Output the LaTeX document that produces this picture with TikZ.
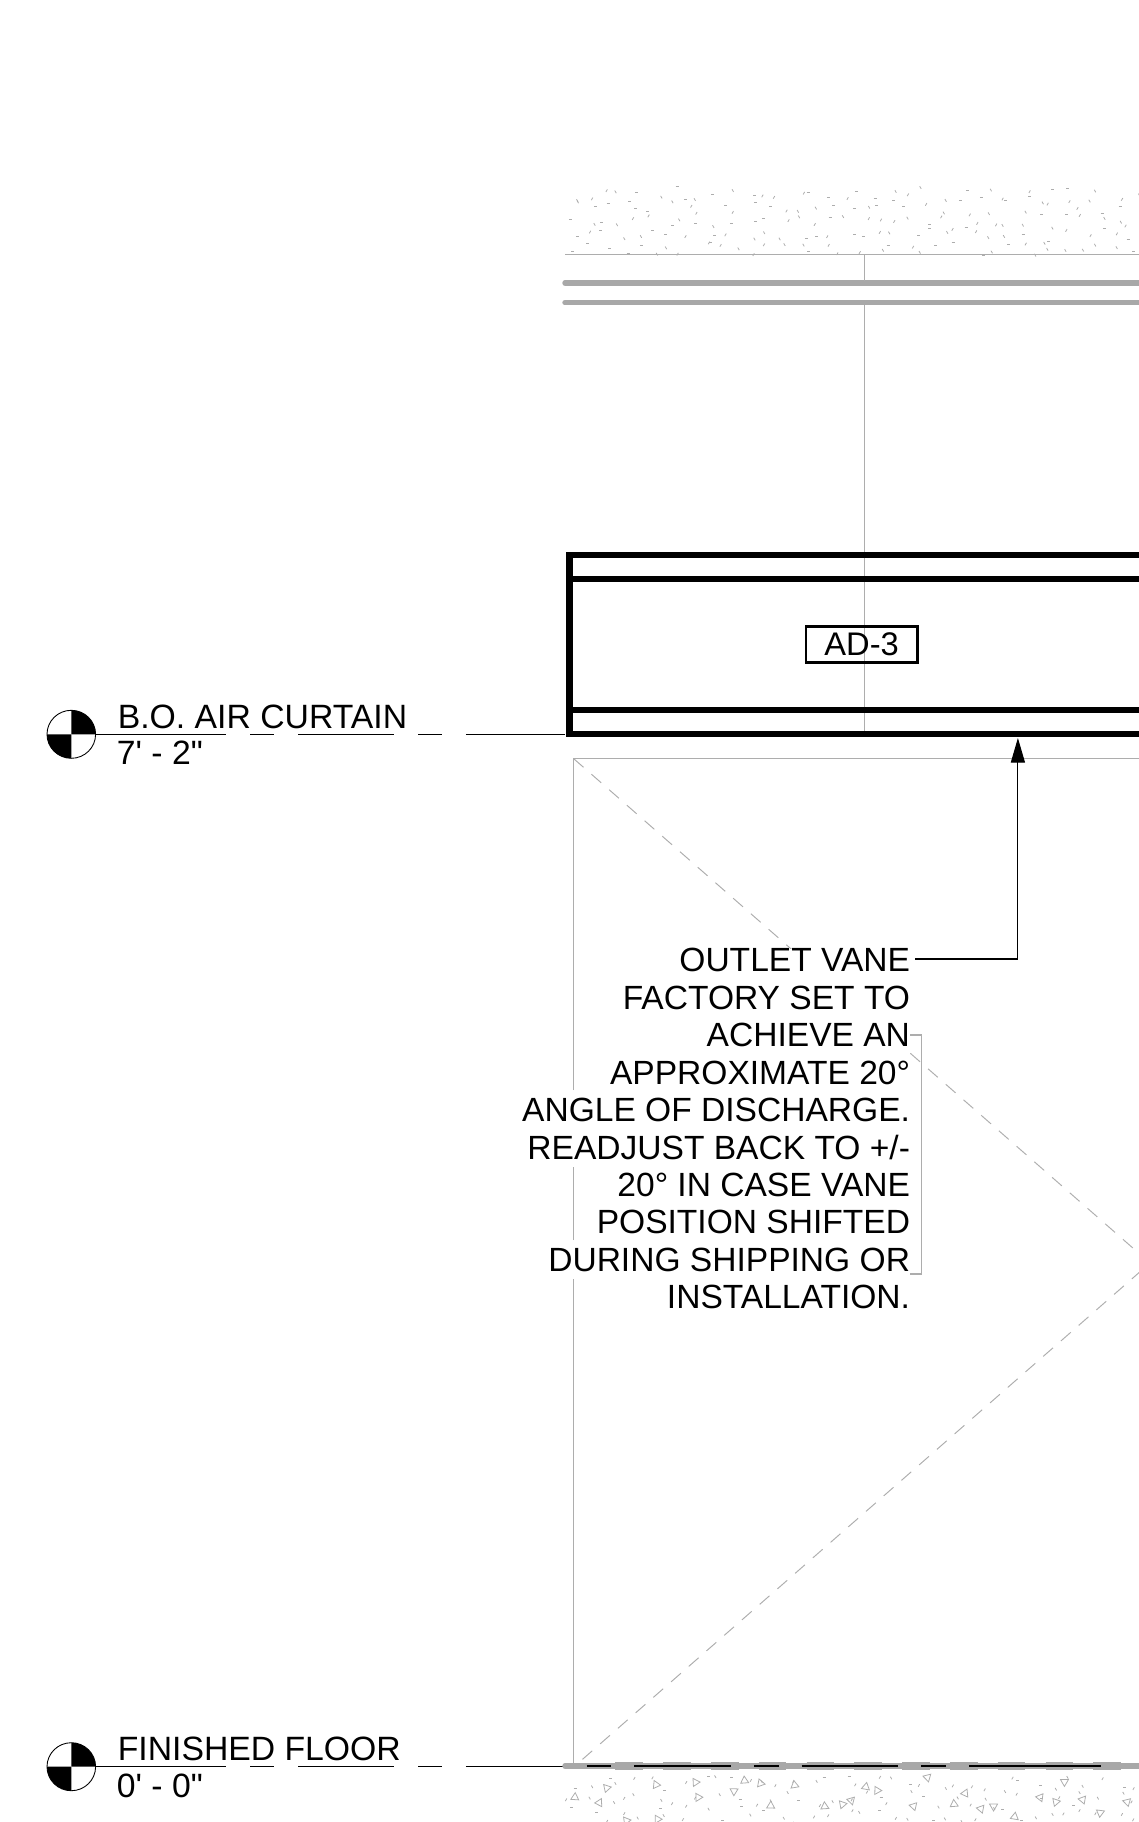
\documentclass[tikz,border=0pt]{standalone}
\usepackage{fontspec}
\newfontfamily\cadfont{Liberation Sans}
\usetikzlibrary{arrows.meta}
\tikzset{
    thinline/.style={draw=black!32, line width=0.6pt},
    hiddenline/.style={draw=black!32, line width=0.55pt, dash pattern=on 7.4pt off 6pt},
    heavyline/.style={line width=3.2pt},
    slabline/.style={draw=black!34, line width=3.1pt, line cap=round},
    stipple/.style={draw=black!32, line width=0.45pt},
    levelline/.style={line width=0.6pt, dash pattern=on 74.3pt off 13.6pt on 13.6pt off 13.6pt on 54.7pt off 13.6pt on 13.6pt off 13.6pt on 90pt},
    leveltext/.style={font=\cadfont\fontsize{19.2}{21}\selectfont, inner sep=0pt},
    notetext/.style={font=\cadfont\fontsize{19.1}{21.3}\selectfont, align=right, inner sep=0pt},
}
\begin{document}
\begin{tikzpicture}[x=0.02cm, y=-0.02cm]
    \useasboundingbox (0, 0) rectangle (1139, 1822);

    % Concrete above
    \pgfmathsetseed{11}
    \foreach \ci in {0,...,35} {
        \foreach \cj in {0,...,4} {
            \pgfmathsetmacro{\sx}{566 + 16*\ci + rnd*16}
            \pgfmathsetmacro{\sy}{186 + 14*\cj + rnd*14}
            \pgfmathsetmacro{\sa}{60*int(rnd*3)}
            \draw[stipple] (\sx, \sy) -- ++(\sa:3);
        }
    }
    \draw[thinline] (565, 254.5) -- (1139, 254.5);
    \draw[slabline] (565, 283) -- (1142, 283);
    \draw[slabline] (565, 302.7) -- (1142, 302.7);

    % Center line
    \draw[thinline] (864.6, 254.5) -- (864.6, 281);
    \draw[thinline] (864.6, 305) -- (864.6, 732);

    % Air curtain
    \draw[heavyline] (566, 554.7) -- (1142, 554.7);
    \draw[heavyline] (566, 578.7) -- (1142, 578.7);
    \draw[heavyline] (566, 710.3) -- (1142, 710.3);
    \draw[heavyline] (566, 734.3) -- (1142, 734.3);
    \draw[line width=4.1pt] (569.4, 552) -- (569.4, 737);
    \node[draw, line width=1.5pt, inner sep=0pt, minimum width=63.5pt, minimum height=20.5pt, font=\cadfont\fontsize{18.6}{21}\selectfont] (tag) at (861.6, 644.2) {AD-3};

    % Door
    \draw[hiddenline] (573.7, 758.7) -- (1150, 1263) -- (573.7, 1767);
    \node[notetext, fill=white, anchor=north east, outer sep=0pt] (note) at (910, 948.5) {OUTLET VANE\\FACTORY SET TO\\ACHIEVE AN\\APPROXIMATE 20°\\ANGLE OF DISCHARGE.\\READJUST BACK TO +/-\\20° IN CASE VANE\\POSITION SHIFTED\\DURING SHIPPING OR\\INSTALLATION.};
    \draw[thinline] (573.7, 1767) -- (573.7, 1279);
    \draw[thinline] (573.7, 1240) -- (573.7, 1167);
    \draw[thinline] (573.7, 1090) -- (573.7, 758.7) -- (1139, 758.7);
    \draw[thinline] (910, 1035) -- (921.7, 1035) -- (921.7, 1274) -- (910, 1274);

    % Leader
    \coordinate (vanestart) at (915, 959);
    \coordinate (vanetip) at (1017.9, 738);
    \draw[line width=0.65pt, -{Triangle[length=14pt, width=8pt]}] (vanestart) -| (vanetip);

    % Levels
    \foreach \ly/\ltop/\lbot/\lname in {734.3/B.O. AIR CURTAIN/7' - 2"/airlevel, 1766.7/FINISHED FLOOR/0' - 0"/floorlevel} {
        \draw[line width=0.5pt] (71.3, \ly) circle [x radius=24.3, y radius=24];
        \fill (71.3, \ly) -- (71.3, \ly-24) arc [start angle=270, end angle=360, x radius=24.3, y radius=24] -- cycle;
        \fill (71.3, \ly) -- (71.3, \ly+24) arc [start angle=90, end angle=180, x radius=24.3, y radius=24] -- cycle;
        \draw[levelline] (95.8, \ly) -- (565, \ly);
        \node[leveltext, anchor=base west] (\lname top) at (117.5, \ly-6) {\ltop};
        \node[leveltext, anchor=base west] (\lname bot) at (116.5, \ly+30.5) {\lbot};
    }

    % Floor slab
    \draw[slabline] (565, 1766) -- (1142, 1766);
    \draw[draw=black!34, line width=4.6pt, dash pattern=on 15.7pt off 11.5pt] (615.4, 1766) -- (1142, 1766);
    \draw[line width=0.6pt, dash pattern=on 13.8pt off 13.4pt on 55pt off 13pt on 14.2pt off 13pt on 54.7pt off 13.4pt on 14pt off 13.2pt on 75.2pt] (586.6, 1766) -- (1103.2, 1766);

    % Concrete below
    \pgfmathsetseed{5}
    \foreach \ci in {0,...,35} {
        \foreach \cj in {0,...,2} {
            \pgfmathsetmacro{\sx}{566 + 16*\ci + rnd*16}
            \pgfmathsetmacro{\sy}{1774 + 16*\cj + rnd*16}
            \pgfmathsetmacro{\sa}{60*int(rnd*3)}
            \draw[stipple] (\sx, \sy) -- ++(\sa:3);
        }
    }
    \foreach \ci in {0,...,30} {
        \pgfmathsetmacro{\sx}{566 + 18.5*\ci + rnd*18}
        \pgfmathsetmacro{\sy}{1778 + rnd*42}
        \pgfmathsetmacro{\sa}{rnd*360}
        \draw[stipple] (\sx, \sy) -- ++(\sa:8) -- ++({\sa+120}:8) -- cycle;
    }
\end{tikzpicture}
\end{document}
